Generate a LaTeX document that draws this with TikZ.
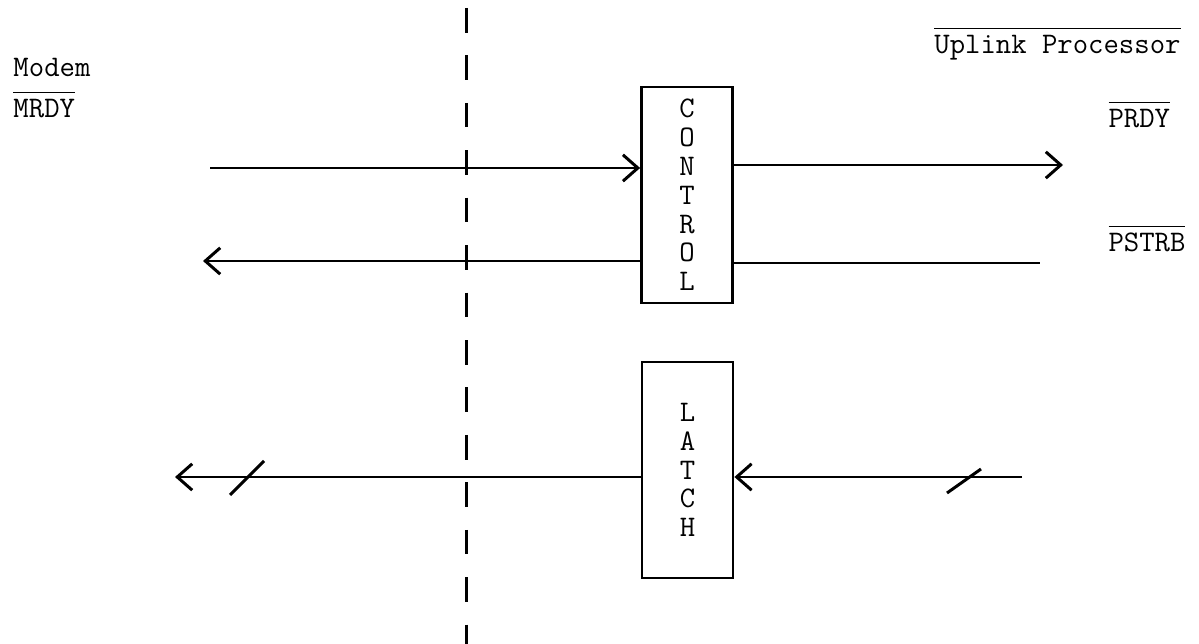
\documentclass[tikz,border=0pt]{standalone}
\usepackage{tikz}
\usetikzlibrary{arrows.meta}
\newcommand{\barred}[1]{$\overline{\rule{0pt}{0.78em}\mbox{#1}}$}
\tikzstyle{block} = [rectangle, draw, line width=1.6pt, minimum width=1.82cm, minimum height=4.32cm, inner sep=0pt, align=center, font=\ttfamily\fontsize{17}{16.4}\selectfont]
\tikzstyle{sig} = [inner sep=0pt, font=\ttfamily\fontsize{17}{20}\selectfont]

\begin{document}
\begin{tikzpicture}[x=0.02cm,y=-0.02cm,-{Straight Barb[length=8.5pt,width=15pt,line width=1.7pt]},shorten >=0pt,line width=1.7pt]
  \useasboundingbox (0,0) rectangle (1199,644);
  \node[block] (control) at (687,195) {C\\O\\N\\T\\R\\O\\L};
  \node[block] (latch) at (687.5,470) {L\\A\\T\\C\\H};

  \node[sig, anchor=base west] (modem) at (12,77) {Modem};
  \node[sig, anchor=base west] (mrdy) at (12,118) {\barred{MRDY}};
  \node[sig, anchor=base east] (uplink) at (1182,54) {\barred{Uplink Processor}};
  \node[sig, anchor=base west] (prdy) at (1107,128) {\barred{PRDY}};
  \node[sig, anchor=base west] (pstrb) at (1107,252) {\barred{PSTRB}};

  \coordinate (div_top) at (466,8);
  \coordinate (div_bot) at (466,644);
  \coordinate (mrdy_in) at (210,168);
  \coordinate (prdy_out) at (1063,165);
  \coordinate (strb_out) at (203,261);
  \coordinate (pstrb_in) at (1040,263);
  \coordinate (bus_out) at (175,477);
  \coordinate (bus_in) at (1022,477);

  \path (div_top) edge[-, dash pattern=on 14pt off 13pt] (div_bot);
  \path (mrdy_in) edge node {} (mrdy_in -| control.west);
  \path (control.east |- prdy_out) edge node {} (prdy_out);
  \path (control.west |- strb_out) edge node {} (strb_out);
  \path (control.east |- pstrb_in) edge[-] node {} (pstrb_in);
  \path (latch.west |- bus_out) edge node {} (bus_out);
  \path (bus_in) edge node {} (bus_in -| latch.east);

  % bus width marks
  \draw[-] (247,478) +(-17,17) -- +(17,-17);
  \draw[-] (964,481) +(-17,12) -- +(17,-12);
\end{tikzpicture}
\end{document}
